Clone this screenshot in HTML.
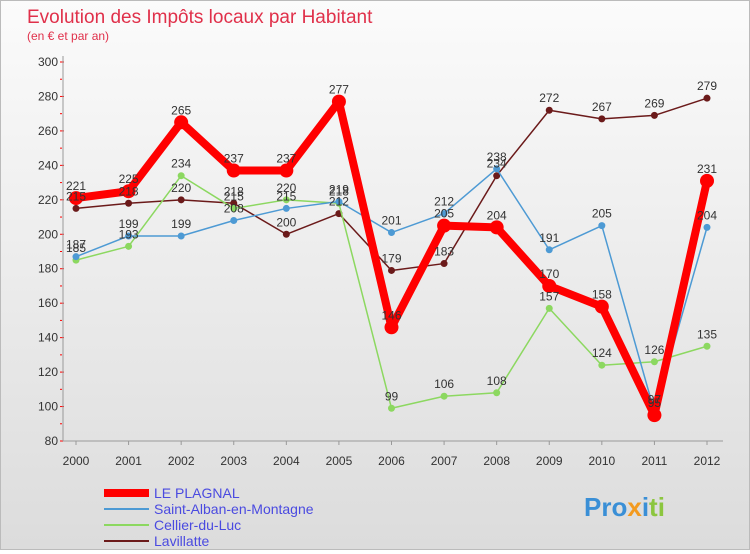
<!DOCTYPE html>
<html><head><meta charset="utf-8"><style>
body{margin:0;width:750px;height:550px;overflow:hidden;font-family:"Liberation Sans",sans-serif}
#root{position:relative;width:748px;height:548px;border:1px solid #bbb;background:linear-gradient(#fff,#ddd)}
</style></head><body>
<div id="root">
<svg id="c" width="748" height="548" xmlns="http://www.w3.org/2000/svg">
<defs><linearGradient id="bg" x1="0" y1="0" x2="0" y2="1"><stop offset="0" stop-color="#fbfbfb"/><stop offset="1" stop-color="#dcdcdc"/></linearGradient></defs>
<rect x="0" y="0" width="748" height="548" fill="url(#bg)"/>
<text x="26" y="22" font-size="19" fill="#e0304a">Evolution des Impôts locaux par Habitant</text>
<text x="26" y="39" font-size="12" fill="#e0304a">(en € et par an)</text>
<g id="axes"></g><g id="series"></g><g id="labels"></g>
<g>
<line x1="103" y1="492" x2="148" y2="492" stroke="#f00" stroke-width="8"/>
<text x="153" y="497" font-size="14" fill="#4a4ae0">LE PLAGNAL</text>
<line x1="103" y1="508" x2="148" y2="508" stroke="#4d9ad4" stroke-width="2"/>
<text x="153" y="513" font-size="14" fill="#4a4ae0">Saint-Alban-en-Montagne</text>
<line x1="103" y1="524" x2="148" y2="524" stroke="#8cd860" stroke-width="2"/>
<text x="153" y="529" font-size="14" fill="#4a4ae0">Cellier-du-Luc</text>
<line x1="103" y1="540" x2="148" y2="540" stroke="#6b1a1a" stroke-width="2"/>
<text x="153" y="545" font-size="14" fill="#4a4ae0">Lavillatte</text>
</g>
<text x="583" y="515" font-size="26" font-weight="bold" fill="#3a8fd6">Pro<tspan fill="#f39a1e">x</tspan><tspan fill="#3a8fd6">i</tspan><tspan fill="#8cc63f">ti</tspan></text>
</svg>
</div>
<script>
const years=[2000,2001,2002,2003,2004,2005,2006,2007,2008,2009,2010,2011,2012];
const plagnal=[221,225,265,237,237,277,146,205,204,170,158,95,231];
const stAlban=[187,199,199,208,215,219,201,212,238,191,205,97,204];
const cellier=[185,193,234,215,220,218,99,106,108,157,124,126,135];
const lavillatte=[215,218,220,218,200,212,179,183,234,272,267,269,279];
const yTicks=[80,100,120,140,160,180,200,220,240,260,280,300];
const NS="http://www.w3.org/2000/svg";
const X=i=>75+i*(706-75)/12;
const Y=v=>440-(v-80)*(440-61)/220;
function mk(t,a,p){const e=document.createElementNS(NS,t);for(const k in a)e.setAttribute(k,a[k]);p.appendChild(e);return e;}
const ax=document.getElementById('axes');
yTicks.forEach(v=>{
 const t=mk('text',{x:57,y:Y(v)+4,'font-size':12,'text-anchor':'end',fill:'#333'},ax);t.textContent=v;
 
 
 mk('line',{x1:59,x2:63,y1:Y(v),y2:Y(v),stroke:'#f00'},ax);
 if(v<300)mk('line',{x1:59,x2:61,y1:Y(v+10),y2:Y(v+10),stroke:'#f00'},ax);
});
mk('line',{x1:62,y1:55,x2:62,y2:440,stroke:'#999'},ax);
mk('line',{x1:62,y1:440,x2:722,y2:440,stroke:'#999'},ax);
years.forEach((y,i)=>{
 mk('line',{x1:X(i),x2:X(i),y1:440,y2:444,stroke:'#999'},ax);
 const t=mk('text',{x:X(i),y:464,'font-size':12,'text-anchor':'middle',fill:'#333'},ax);t.textContent=y;
 
 
});
const sg=document.getElementById('series'),lg=document.getElementById('labels');
function draw(d,col,w,r,name){
 const g=mk('g',{},sg);
 
 
 mk('polyline',{points:d.map((v,i)=>X(i)+','+Y(v)).join(' '),fill:'none',stroke:col,'stroke-width':w,'stroke-linejoin':'round'},g);
 d.forEach((v,i)=>{
  const c=mk('circle',{cx:X(i),cy:Y(v),r:r,fill:col},g);
  
  
  const t=mk('text',{x:X(i),y:Y(v)-8,'font-size':12,'text-anchor':'middle',fill:'#333'},lg);t.textContent=v;
  
  
 });
}
draw(lavillatte,'#6b1a1a',1.5,3.5,'series-lavillatte');
draw(cellier,'#8cd860',1.5,3.5,'series-cellier');
draw(stAlban,'#4d9ad4',1.5,3.5,'series-saint-alban');
draw(plagnal,'#f00',8,7,'series-le-plagnal');
</script>
</body></html>
